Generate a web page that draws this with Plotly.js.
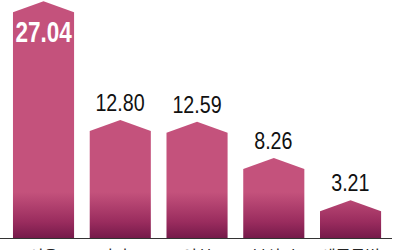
<!DOCTYPE html>
<html>
<head>
<meta charset="utf-8">
<script src="https://cdn.plot.ly/plotly-3.0.1.min.js"></script>
<style>
html,body{margin:0;padding:0;background:#fff;}
#chart{width:400px;height:250px;}
</style>
</head>
<body>
<div id="chart"></div>
<script>
// Data
const categories = ['서울', '경기도', '인천', '부산시', '세종특별'];
const values = [27.04, 12.80, 12.59, 8.26, 3.21];
const valueLabels = ['27.04', '12.80', '12.59', '8.26', '3.21'];

// Style
const PINK = '#c4527c';
const DARK = '#761a4a';
const halfW = 0.398;
const roof = 1.32;
const FONT = '"Liberation Sans", Arial, sans-serif';

const traces = values.map((v, i) => ({
  type: 'scatter',
  mode: 'lines',
  x: [i - halfW, i - halfW, i, i + halfW, i + halfW, i - halfW],
  y: [0, v, v + roof, v, 0, 0],
  fill: 'toself',
  line: {width: 0, color: PINK},
  fillgradient: {
    type: 'vertical',
    start: 0,
    stop: 5.5,
    colorscale: [[0, DARK], [0.35, '#9a2c5e'], [1, PINK]]
  },
  hoverinfo: 'skip',
  showlegend: false
}));

const annotations = values.map((v, i) => {
  if (i === 0) {
    return {
      x: i, y: v, xref: 'x', yref: 'y',
      text: valueLabels[i], showarrow: false,
      yanchor: 'middle', yshift: -19,
      font: {family: FONT, size: 30, color: '#ffffff', weight: 'bold'}
    };
  }
  return {
    x: i, y: v + roof, xref: 'x', yref: 'y',
    text: valueLabels[i], showarrow: false,
    yanchor: 'bottom', yshift: 2,
    font: {family: FONT, size: 24, color: '#111111'}
  };
});

const layout = {
  width: 400, height: 250,
  margin: {l: 0, r: 8, t: 0, b: 12, pad: 0},
  paper_bgcolor: '#ffffff',
  plot_bgcolor: '#ffffff',
  showlegend: false,
  xaxis: {
    range: [-0.567, 4.54],
    tickmode: 'array',
    tickvals: categories.map((c, i) => i),
    ticktext: categories,
    showgrid: false, zeroline: false,
    showline: true, linecolor: '#333333', linewidth: 1,
    ticks: '',
    ticklabelstandoff: 4,
    tickfont: {family: '"Noto Sans CJK KR", sans-serif', size: 16, color: '#222222'},
    fixedrange: true
  },
  yaxis: {
    range: [0, 28.5],
    showgrid: false, zeroline: false, showline: false,
    showticklabels: false, ticks: '',
    fixedrange: true
  },
  annotations: annotations
};

Plotly.newPlot('chart', traces, layout, {displayModeBar: false, staticPlot: true}).then(gd => {
  // condense the value labels horizontally to match the narrow typeface
  const texts = gd.querySelectorAll('.annotation-text');
  texts.forEach((t, idx) => {
    const bb = t.getBBox();
    const cx = bb.x + bb.width / 2;
    const s = idx === 0 ? 0.75 : 0.82;
    t.setAttribute('transform', `translate(${cx},0) scale(${s},1) translate(${-cx},0)`);
  });
});
</script>
</body>
</html>
